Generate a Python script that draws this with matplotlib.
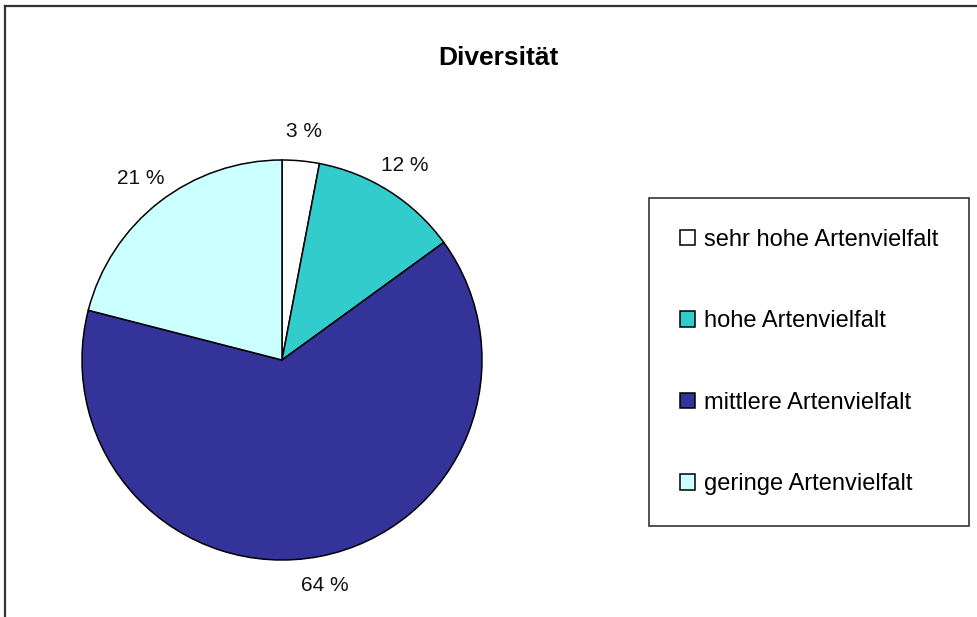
import matplotlib.pyplot as plt
from matplotlib.lines import Line2D

labels = ["sehr hohe Artenvielfalt", "hohe Artenvielfalt", "mittlere Artenvielfalt", "geringe Artenvielfalt"]
values = [3, 12, 64, 21]
colors = ["#FFFFFF", "#33CCCC", "#333399", "#CCFFFF"]

plt.rcParams['font.family'] = ['Liberation Sans', 'DejaVu Sans']

fig = plt.figure(figsize=(9.77, 6.17), dpi=100)
W, H = 977, 617

# pie: centre (282, 360) px, radius 200 px
ax = fig.add_axes([82 / W, 57 / H, 400 / W, 400 / H])
wedges, texts, autotexts = ax.pie(
    values, colors=colors, startangle=90, counterclock=False,
    autopct=lambda p: f"{p:.0f} %", pctdistance=1.15,
    wedgeprops=dict(edgecolor="black", linewidth=1.1),
    textprops=dict(fontsize=15, color="#111111"))
ax.set_xlim(-1, 1)
ax.set_ylim(-1, 1)
ax.set_aspect("auto")
ax.axis("off")

fig.text(498 / W, 1 - 58 / H, "Diversität", ha="center", va="center",
         fontsize=19, fontweight="bold")

leg = fig.legend(wedges, labels, loc="center",
                 bbox_to_anchor=(809 / W, 1 - 362 / H),
                 fontsize=17, frameon=True, fancybox=False,
                 edgecolor="black", borderpad=1.3, labelspacing=2.52,
                 handlelength=0.65, handleheight=0.65, handletextpad=0.35)
leg.get_frame().set_linewidth(1.2)

# outer chart frame (top and left edges visible)
fig.add_artist(Line2D([5 / W, 1], [1 - 6 / H, 1 - 6 / H], color="#333333", lw=1.6))
fig.add_artist(Line2D([5 / W, 5 / W], [0, 1 - 6 / H], color="#333333", lw=1.6))

fig.savefig("out.png", dpi=100)
